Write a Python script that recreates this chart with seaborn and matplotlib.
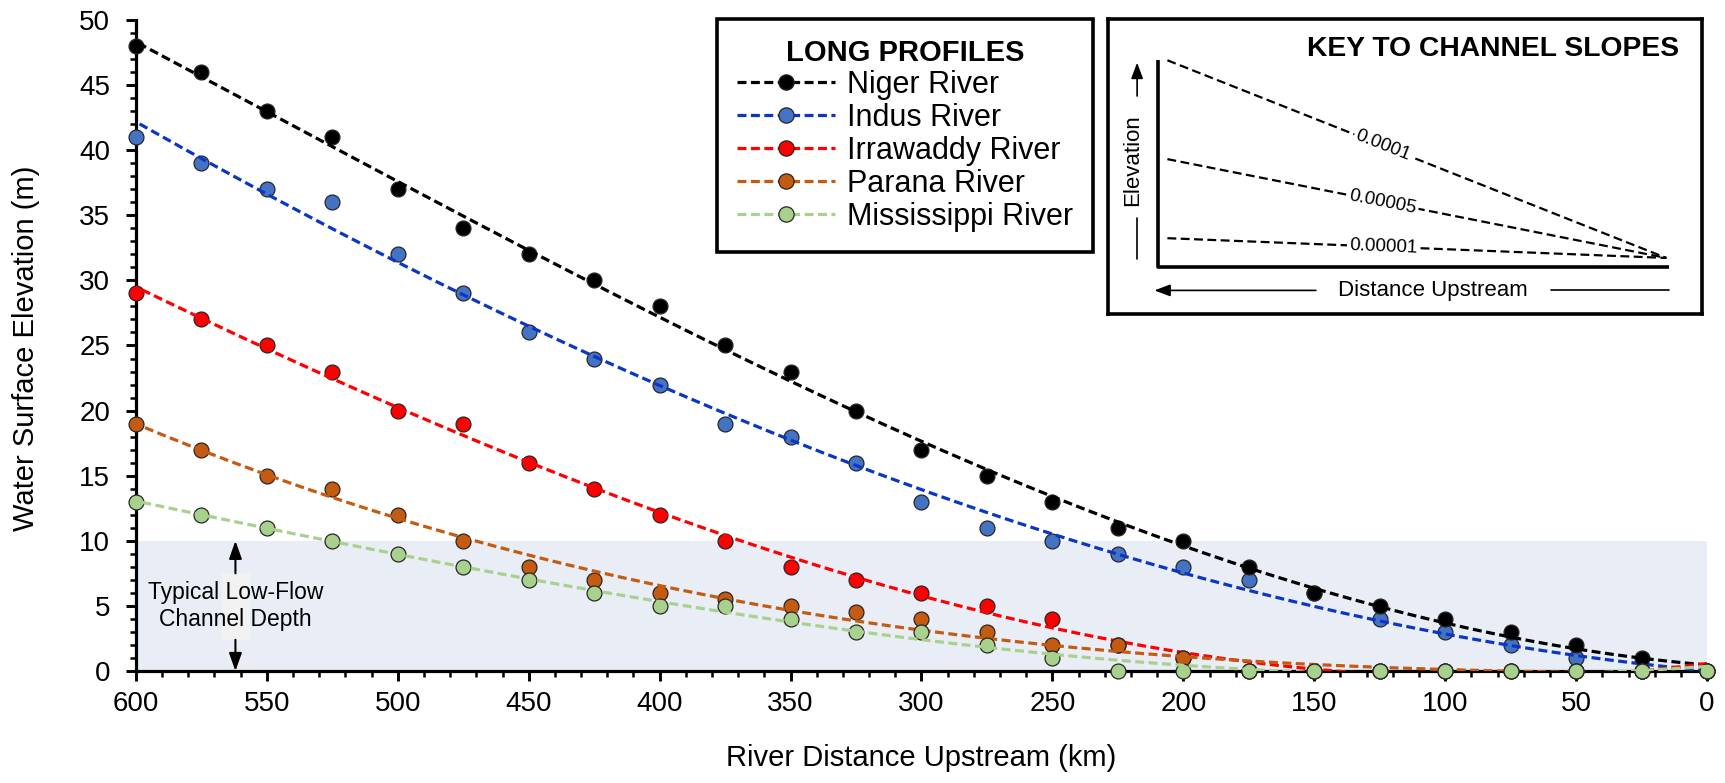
import numpy as np
import pandas as pd
import seaborn as sns
import matplotlib.pyplot as plt
from matplotlib.lines import Line2D
from matplotlib.patches import Rectangle
from matplotlib.ticker import MultipleLocator

# river distance upstream (km) and water surface elevation (m)
distance_km = [600, 575, 550, 525, 500, 475, 450, 425, 400, 375, 350, 325, 300,
               275, 250, 225, 200, 175, 150, 125, 100, 75, 50, 25, 0]
niger = [48, 46, 43, 41, 37, 34, 32, 30, 28, 25, 23, 20, 17,
         15, 13, 11, 10, 8, 6, 5, 4, 3, 2, 1, 0]
indus = [41, 39, 37, 36, 32, 29, 26, 24, 22, 19, 18, 16, 13,
         11, 10, 9, 8, 7, 6, 4, 3, 2, 1, 0, 0]
irrawaddy = [29, 27, 25, 23, 20, 19, 16, 14, 12, 10, 8, 7, 6,
             5, 4, 2, 1, 0, 0, 0, 0, 0, 0, 0, 0]
parana = [19, 17, 15, 14, 12, 10, 8, 7, 6, 5.5, 5, 4.5, 4,
          3, 2, 2, 1, 0, 0, 0, 0, 0, 0, 0, 0]
mississippi = [13, 12, 11, 10, 9, 8, 7, 6, 5, 5, 4, 3, 3,
               2, 1, 0, 0, 0, 0, 0, 0, 0, 0, 0, 0]

river_names = ["Niger River", "Indus River", "Irrawaddy River", "Parana River", "Mississippi River"]
profiles = [niger, indus, irrawaddy, parana, mississippi]
line_colors = ["#000000", "#0A36C8", "#FF0000", "#C55A11", "#A9D18E"]
marker_colors = ["#000000", "#4472C4", "#FF0000", "#C55A11", "#A9D18E"]
# drawing order (bottom -> top), Indus sits under Niger in the original
draw_order = [1, 0, 2, 3, 4]

# key to channel slopes
key_slopes = [0.0001, 0.00005, 0.00001]
key_labels = ["0.0001", "0.00005", "0.00001"]

DASH = (0, (2.8, 1.4))

sns.set_theme(style="ticks")
plt.rcParams['font.family'] = ['Liberation Sans', 'DejaVu Sans']
plt.rcParams['text.color'] = 'black'
plt.rcParams['axes.labelcolor'] = 'black'
plt.rcParams['xtick.color'] = 'black'
plt.rcParams['ytick.color'] = 'black'

fig = plt.figure(figsize=(17.25, 7.83), dpi=100)
ax = fig.add_axes([0.0788, 0.1430, 0.9108, 0.8315])

ax.axhspan(0, 10, color='#E9EDF6', lw=0, zorder=0)

for k, i in enumerate(draw_order):
    df = pd.DataFrame({'km': distance_km, 'elev': profiles[i]})
    # polynomial trendline through the points
    coef = np.polyfit(df['km'], df['elev'], 3)
    fx = np.linspace(600, 0, 400)
    fit = pd.DataFrame({'km': fx, 'elev': np.polyval(coef, fx)})
    sc = sns.scatterplot(data=df, x='km', y='elev', color=marker_colors[i], s=115,
                         edgecolor='#262626', linewidth=0.9, ax=ax, zorder=4 + 2 * k)
    sc.collections[-1].set_clip_on(False)
    sns.lineplot(data=fit, x='km', y='elev', color=line_colors[i], lw=2.3,
                 linestyle=DASH, ax=ax, zorder=5 + 2 * k)

ax.set_xlim(600, 0)
ax.set_ylim(0, 50)
ax.xaxis.set_major_locator(MultipleLocator(50))
ax.xaxis.set_minor_locator(MultipleLocator(10))
ax.yaxis.set_major_locator(MultipleLocator(5))
ax.yaxis.set_minor_locator(MultipleLocator(1))
ax.tick_params(which='major', direction='out', length=7.5, width=2.1, labelsize=20)
ax.tick_params(which='minor', direction='out', length=4.2, width=1.8)
ax.tick_params(axis='x', which='major', pad=7)
ax.tick_params(axis='y', which='major', pad=11)
for s in ['top', 'right']:
    ax.spines[s].set_visible(False)
for s in ['left', 'bottom']:
    ax.spines[s].set_linewidth(2.3)
    ax.spines[s].set_color('black')

ax.set_xlabel('River Distance Upstream (km)', fontsize=21)
ax.set_ylabel('Water Surface Elevation (m)', fontsize=21)
ax.xaxis.set_label_coords(0.5, -0.112)
ax.yaxis.set_label_coords(-0.061, 0.495)

# low-flow channel depth note
ax.add_patch(Rectangle((567.1, 2.38), -10.6, 5.15, facecolor='#F2F2F2', edgecolor='none', zorder=1))
ax.text(562, 5.0, 'Typical Low-Flow\nChannel Depth', ha='center', va='center', fontsize=16.5,
        linespacing=1.25, zorder=2)
arrow_kw = dict(arrowstyle='-|>,head_length=0.9,head_width=0.32', color='black', lw=1.5,
                mutation_scale=12, shrinkA=0, shrinkB=0)
ax.annotate('', xy=(562, 10), xytext=(562, 7.5), arrowprops=arrow_kw, zorder=2)
ax.annotate('', xy=(562, 0), xytext=(562, 2.4), arrowprops=arrow_kw, zorder=2)

# legend
handles = [Line2D([], [], color=line_colors[i], lw=2.3, linestyle=DASH, marker='o', markersize=11,
                  markerfacecolor=marker_colors[i], markeredgecolor='#262626', markeredgewidth=0.9)
           for i in range(len(river_names))]
leg = ax.legend(handles, river_names, title='LONG PROFILES', loc='upper left',
                bbox_to_anchor=(717 / 1725, 1 - 19 / 783), bbox_transform=fig.transFigure,
                fontsize=22, title_fontsize=21, frameon=True, fancybox=False, framealpha=1,
                edgecolor='black', handlelength=3.2, handletextpad=0.4, labelspacing=0.1,
                borderpad=0.65, borderaxespad=0)
leg.get_frame().set_linewidth(2.6)
leg.get_title().set_fontweight('bold')
leg.set_zorder(20)

# key to channel slopes
kax = fig.add_axes([1108 / 1725, 1 - 314 / 783, 594 / 1725, 295 / 783])
kax.set_xlim(0, 1)
kax.set_ylim(0, 1)
kax.set_xticks([])
kax.set_yticks([])
kax.set_facecolor('white')
for s in kax.spines.values():
    s.set_linewidth(2.6)
    s.set_color('black')

kax.text(0.648, 0.9, 'KEY TO CHANNEL SLOPES', ha='center', va='center', fontsize=20.3, fontweight='bold')
kax.plot([0.085, 0.085, 0.945], [0.862, 0.161, 0.161], color='black', lw=2.6, solid_capstyle='butt')

x0, x1, base = 0.1, 0.94, 0.19
scale = 6700
w_px, h_px = 594, 295
for slope, lab in zip(key_slopes, key_labels):
    rise = slope * scale
    kax.plot([x0, x1], [base + rise, base], color='black', lw=1.6, linestyle=(0, (4, 2)))
    xl = 0.463
    yl = base + rise * (x1 - xl) / (x1 - x0)
    ang = -np.degrees(np.arctan(rise * h_px / ((x1 - x0) * w_px)))
    kax.text(xl, yl, lab, ha='center', va='center', fontsize=13.5, rotation=ang,
             rotation_mode='anchor', bbox=dict(fc='white', ec='none', pad=1.5))

kax.text(0.042, 0.523, 'Elevation', ha='center', va='center', rotation=90, fontsize=16)
kax.annotate('', xy=(0.049, 0.852), xytext=(0.049, 0.739),
             arrowprops=dict(arrowstyle='-|>,head_length=0.8,head_width=0.3', color='black', lw=1.2,
                             mutation_scale=12, shrinkA=0, shrinkB=0))
kax.plot([0.049, 0.049], [0.324, 0.1875], color='black', lw=1.2)
kax.text(0.547, 0.08, 'Distance Upstream', ha='center', va='center', fontsize=16)
kax.annotate('', xy=(0.078, 0.08), xytext=(0.35, 0.08),
             arrowprops=dict(arrowstyle='-|>,head_length=0.8,head_width=0.3', color='black', lw=1.2,
                             mutation_scale=12, shrinkA=0, shrinkB=0))
kax.plot([0.745, 0.945], [0.08, 0.08], color='black', lw=1.2)

fig.savefig('out.png', dpi=100)
